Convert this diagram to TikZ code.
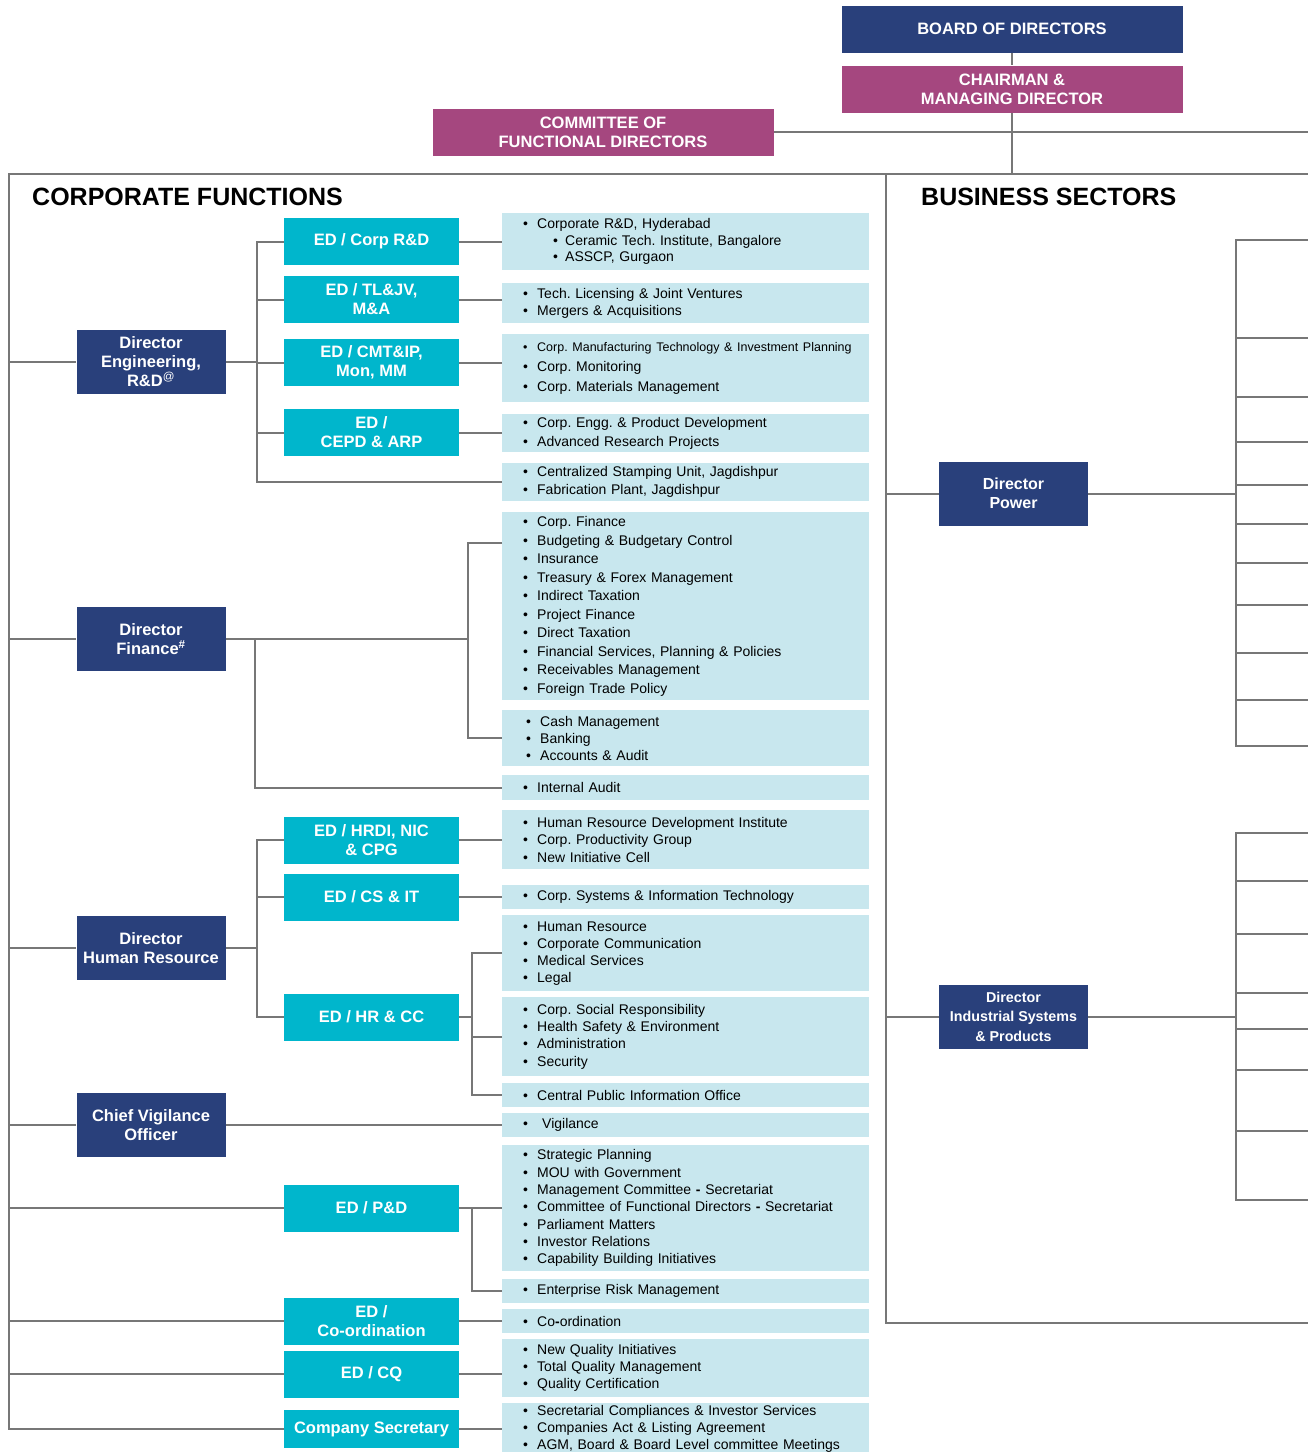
\documentclass[tikz,border=0pt]{standalone}
\usepackage{fontspec}
\setmainfont{Liberation Sans}
\usetikzlibrary{positioning}
\frenchspacing

\definecolor{navy}{HTML}{29407B}
\definecolor{plum}{HTML}{A5477F}
\definecolor{edcyan}{HTML}{00B6CC}
\definecolor{pale}{HTML}{C8E7EE}
\definecolor{wire}{HTML}{777777}

\tikzset{
  topbox/.style={fill=navy, text=white, minimum width=341pt, minimum height=47pt,
    align=center, inner sep=0pt, font=\bfseries\fontsize{16.5}{19}\selectfont},
  cmdbox/.style={topbox, fill=plum},
  dirbox/.style={topbox, minimum width=149pt, minimum height=64pt},
  edbox/.style={topbox, fill=edcyan, minimum width=175pt},
  lst/.style={fill=pale, anchor=north west, minimum width=367pt, text width=325pt,
    inner sep=0pt, align=left, font=\fontsize{14}{17}\selectfont},
  heading/.style={anchor=base west, inner sep=0pt, font=\bfseries\fontsize{25}{30}\selectfont},
  conn/.style={draw=wire, line width=2pt}
}

\newcommand\itm[1]{\mbox{\makebox[14pt][l]{\textbullet}#1}}
\newcommand\subitm[1]{\hspace*{30pt}\mbox{\makebox[12pt][l]{\textbullet}#1}}

\begin{document}
\begin{tikzpicture}[x=1pt, y=-1pt]
  \useasboundingbox (0,0) rectangle (1308,1452);

  % Define nodes
  \node[topbox] (board) at (1012,29)  {BOARD OF DIRECTORS};
  \node[cmdbox] (cmd)   at (1012,89)  {CHAIRMAN \&\\MANAGING DIRECTOR};
  \node[cmdbox] (cfd)   at (603,132)  {COMMITTEE OF\\FUNCTIONAL DIRECTORS};

  \node[heading] (corp) at (32,205)  {CORPORATE FUNCTIONS};
  \node[heading] (bus)  at (921,205) {BUSINESS SECTORS};

  \node[dirbox] (deng) at (151,362)  {Director\\Engineering,\\R\&D\textsuperscript{\mdseries @}};
  \node[dirbox] (dfin) at (151,639)  {Director\\Finance\textsuperscript{\#}};
  \node[dirbox] (dhr)  at (151,948)  {Director\\Human Resource};
  \node[dirbox] (cvo)  at (151,1125) {Chief Vigilance\\Officer};

  \node[edbox] (edrd)   at (371.5,241.5) {ED / Corp R\&D};
  \node[edbox] (edtl)   at (371.5,299.5) {ED / TL\&JV,\\M\&A};
  \node[edbox] (edcmt)  at (371.5,362.5) {ED / CMT\&IP,\\Mon, MM};
  \node[edbox] (edcepd) at (371.5,432.5) {ED /\\CEPD \& ARP};
  \node[edbox] (edhrdi) at (371.5,840)   {ED / HRDI, NIC\\\& CPG};
  \node[edbox] (edcsit) at (371.5,897)   {ED / CS \& IT};
  \node[edbox] (edhrcc) at (371.5,1017)  {ED / HR \& CC};
  \node[edbox] (edpd)   at (371.5,1208)  {ED / P\&D};
  \node[edbox] (edco)   at (371.5,1321)  {ED /\\Co-ordination};
  \node[edbox] (edcq)   at (371.5,1374)  {ED / CQ};
  \node[edbox, minimum height=38pt] (ecs) at (371.5,1429) {Company Secretary};

  \node[lst, minimum height=57pt, font=\fontsize{14}{16.5}\selectfont] (lrd) at (502,213)
    {\itm{Corporate R\&D, Hyderabad}\\\subitm{Ceramic Tech. Institute, Bangalore}\\\subitm{ASSCP, Gurgaon}};
  \node[lst, minimum height=40pt] (ltl) at (502,283)
    {\itm{Tech. Licensing \& Joint Ventures}\\\itm{Mergers \& Acquisitions}};
  \node[lst, minimum height=68pt, font=\fontsize{14}{20}\selectfont] (lcmt) at (502,334)
    {{\fontsize{12.5}{20}\selectfont\itm{Corp. Manufacturing Technology \& Investment Planning}}\\\itm{Corp. Monitoring}\\\itm{Corp. Materials Management}};
  \node[lst, minimum height=38pt, font=\fontsize{14}{19}\selectfont] (lcepd) at (502,414)
    {\itm{Corp. Engg. \& Product Development}\\\itm{Advanced Research Projects}};
  \node[lst, minimum height=38pt, font=\fontsize{14}{18}\selectfont] (lstamp) at (502,463)
    {\itm{Centralized Stamping Unit, Jagdishpur}\\\itm{Fabrication Plant, Jagdishpur}};

  \node[lst, minimum height=188pt, font=\fontsize{14}{18.5}\selectfont] (lfa) at (502,512)
    {\itm{Corp. Finance}\\\itm{Budgeting \& Budgetary Control}\\\itm{Insurance}\\
     \itm{Treasury \& Forex Management}\\\itm{Indirect Taxation}\\\itm{Project Finance}\\
     \itm{Direct Taxation}\\\itm{Financial Services, Planning \& Policies}\\
     \itm{Receivables Management}\\\itm{Foreign Trade Policy}};
  \node[lst, minimum height=56pt] (lfb) at (502,710)
    {\hspace*{3pt}\itm{Cash Management}\\\hspace*{3pt}\itm{Banking}\\\hspace*{3pt}\itm{Accounts \& Audit}};
  \node[lst, minimum height=25pt] (lfc) at (502,775) {\itm{Internal Audit}};

  \node[lst, minimum height=59pt, font=\fontsize{14}{17.5}\selectfont] (lhrdi) at (502,810)
    {\itm{Human Resource Development Institute}\\\itm{Corp. Productivity Group}\\\itm{New Initiative Cell}};
  \node[lst, minimum height=24pt] (lcsit) at (502,885) {\itm{Corp. Systems \& Information Technology}};
  \node[lst, minimum height=76pt] (lhr) at (502,915)
    {\itm{Human Resource}\\\itm{Corporate Communication}\\\itm{Medical Services}\\\itm{Legal}};
  \node[lst, minimum height=79pt, font=\fontsize{14}{17.3}\selectfont] (lcsr) at (502,997)
    {\itm{Corp. Social Responsibility}\\\itm{Health Safety \& Environment}\\\itm{Administration}\\\itm{Security}};
  \node[lst, minimum height=24pt] (lcpio) at (502,1083) {\itm{Central Public Information Office}};
  \node[lst, minimum height=24pt] (lvig)  at (502,1113) {\itm{\hspace*{5pt}Vigilance}};

  \node[lst, minimum height=126pt, font=\fontsize{14}{17.3}\selectfont] (lpd) at (502,1145)
    {\itm{Strategic Planning}\\\itm{MOU with Government}\\\itm{Management Committee \textbf{-} Secretariat}\\
     \itm{Committee of Functional Directors \textbf{-} Secretariat}\\\itm{Parliament Matters}\\
     \itm{Investor Relations}\\\itm{Capability Building Initiatives}};
  \node[lst, minimum height=24pt] (lerm)   at (502,1279) {\itm{Enterprise Risk Management}};
  \node[lst, minimum height=24pt] (lcoord) at (502,1309) {\itm{Co\textbf{-}ordination}};
  \node[lst, minimum height=58pt] (lcq) at (502,1339)
    {\itm{New Quality Initiatives}\\\itm{Total Quality Management}\\\itm{Quality Certification}};
  \node[lst, minimum height=51pt] (lcs) at (502,1403)
    {\itm{Secretarial Compliances \& Investor Services}\\\itm{Companies Act \& Listing Agreement}\\
     \itm{AGM, Board \& Board Level committee Meetings}};

  \node[dirbox, font=\bfseries\fontsize{16}{19}\selectfont] (dpow) at (1013.5,493.5) {Director\\Power};
  \node[dirbox, font=\bfseries\fontsize{14.3}{19.5}\selectfont] (disp) at (1013.5,1016.5)
    {Director\\Industrial Systems\\\& Products};

  % Frame points
  \coordinate (top) at (1012,174);
  \coordinate (tl)  at (9,174);
  \coordinate (tr)  at (1308,174);
  \coordinate (tm)  at (886,174);
  \coordinate (bm)  at (886,1323);
  \coordinate (br)  at (1308,1323);
  \coordinate (cfr) at (1308,132);

  % Connect the nodes
  \draw[conn] (board) -- (cmd);
  \draw[conn] (cmd) -- (top);
  \draw[conn] (cfd.east) -- (cfr);
  \draw[conn] (tr) -- (tl) |- (ecs.west);
  \draw[conn] (tm) -- (bm) -- (br);

  \foreach \n in {deng,dfin,dhr,cvo,edpd,edco,edcq}
    \draw[conn] (tl |- \n.west) -- (\n.west);
  \draw[conn] (cvo.east) -- (cvo.east -| lvig.west);

  \foreach \a/\b in {edrd/lrd, edtl/ltl, edcmt/lcmt, edcepd/lcepd, edhrdi/lhrdi,
                     edcsit/lcsit, edpd/lpd, edco/lcoord, edcq/lcq, ecs/lcs}
    \draw[conn] (\a.east) -- (\a.east -| \b.west);

  % engineering
  \coordinate (ej) at (257,362);
  \draw[conn] (deng.east) -- (ej);
  \draw[conn] (edrd.west) -| (ej) |- (lstamp.west);
  \foreach \n in {edtl,edcmt,edcepd}
    \draw[conn] (\n.west) -- (\n.west -| ej);

  % finance
  \coordinate (fj) at (468,639);
  \coordinate (fk) at (255,639);
  \draw[conn] (dfin.east) -- (fj);
  \draw[conn] ([yshift=-31pt]lfa.north west) -| (fj) |- (lfb.west);
  \draw[conn] (fk) |- (lfc.west);

  % human resource
  \coordinate (hj) at (257,948);
  \coordinate (cj) at (472,1017);
  \draw[conn] (dhr.east) -- (hj);
  \draw[conn] (edhrdi.west) -| (hj) |- (edhrcc.west);
  \draw[conn] (edcsit.west) -- (edcsit.west -| hj);
  \draw[conn] (edhrcc.east) -- (cj);
  \draw[conn] ([yshift=-38pt]lhr.north west) -| (cj) |- (lcpio.west);
  \draw[conn] ([yshift=-40pt]lcsr.north west) -- ++(-30,0);

  % planning
  \coordinate (pj) at (472,1208);
  \draw[conn] (pj) |- (lerm.west);

  % business sectors
  \draw[conn] (tm |- dpow.west) -- (dpow.west);
  \draw[conn] (tm |- disp.west) -- (disp.west);
  \coordinate (pwj) at (1236,493.5);
  \coordinate (isj) at (1236,1016.5);
  \draw[conn] (dpow.east) -- (pwj);
  \draw[conn] (disp.east) -- (isj);
  \foreach \y [count=\i] in {240,338,397,442,485,524,563,605,653,700,746}
    \coordinate (pw\i) at (1308,\y);
  \draw[conn] (pw1) -| (pwj |- pw11) -- (pw11);
  \foreach \i in {2,...,10}
    \draw[conn] (pwj |- pw\i) -- (pw\i);
  \foreach \y [count=\i] in {833,881,934,993,1029,1070,1131,1200}
    \coordinate (is\i) at (1308,\y);
  \draw[conn] (is1) -| (isj |- is8) -- (is8);
  \foreach \i in {2,...,7}
    \draw[conn] (isj |- is\i) -- (is\i);

\end{tikzpicture}
\end{document}
